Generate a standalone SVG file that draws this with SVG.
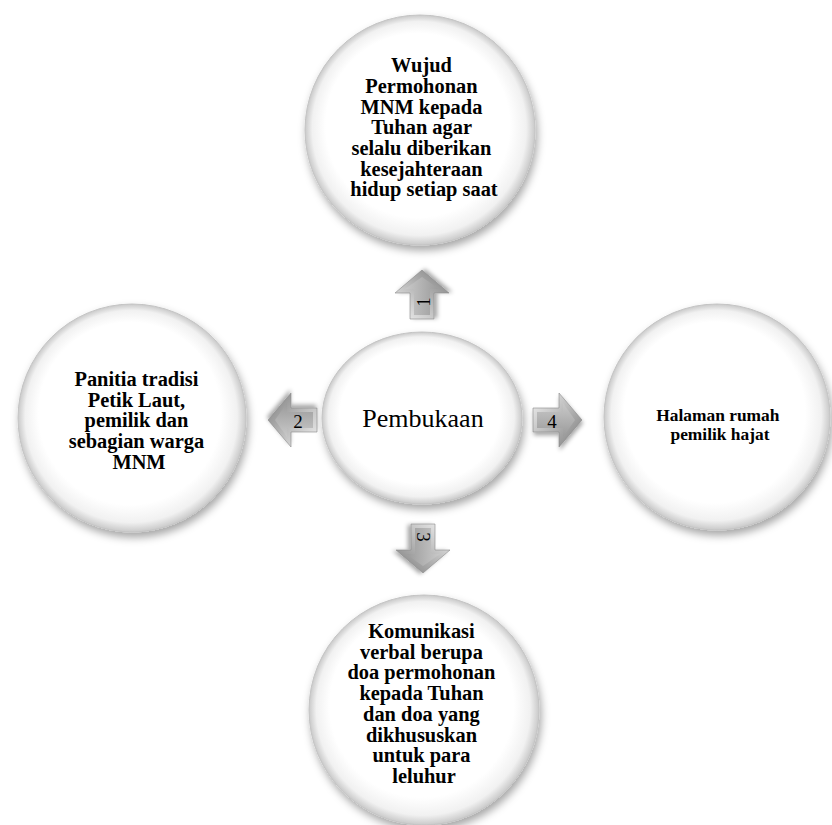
<svg xmlns="http://www.w3.org/2000/svg" width="832" height="825" viewBox="0 0 832 825">
  <style>
    .bubble { fill: url(#sphere); stroke: #c4c4c4; stroke-width: 1; filter: url(#softShadow); }
    .label { font-family: "Liberation Serif", "Times New Roman", serif; font-weight: bold; font-size: 20.4px; fill: #000; text-anchor: middle; }
    .small { font-size: 17.4px; }
    .hub { font-family: "Liberation Serif", "Times New Roman", serif; font-size: 26px; fill: #000; text-anchor: middle; }
    .num { font-family: "Liberation Serif", "Times New Roman", serif; font-size: 19px; fill: #000; text-anchor: middle; dominant-baseline: central; }
    .arrow-outer { fill: url(#bevelOuter); stroke: #8a8a8a; stroke-width: 0.6; filter: url(#arrowShadow); }
    .arrow-inner { fill: url(#bevelInner); }
  </style>
  <defs>
    <radialGradient id="sphere" cx="0.5" cy="0.5" r="0.5" fx="0.45" fy="0.4">
      <stop offset="0" stop-color="#ffffff"/>
      <stop offset="0.8" stop-color="#ffffff"/>
      <stop offset="0.93" stop-color="#f1f1f1"/>
      <stop offset="1" stop-color="#c9c9c9"/>
    </radialGradient>
    <linearGradient id="bevelOuter" x1="0" y1="0" x2="1" y2="1">
      <stop offset="0" stop-color="#f4f4f4"/>
      <stop offset="0.5" stop-color="#b8b8b8"/>
      <stop offset="1" stop-color="#7a7a7a"/>
    </linearGradient>
    <linearGradient id="bevelInner" x1="0" y1="0" x2="0" y2="1">
      <stop offset="0" stop-color="#c9c9c9"/>
      <stop offset="1" stop-color="#9a9a9a"/>
    </linearGradient>
    <filter id="softShadow" x="-20%" y="-20%" width="140%" height="145%">
      <feDropShadow dx="2" dy="5" stdDeviation="4" flood-color="#000" flood-opacity="0.35"/>
    </filter>
    <filter id="arrowShadow" x="-30%" y="-30%" width="160%" height="170%">
      <feDropShadow dx="1" dy="3" stdDeviation="2" flood-color="#000" flood-opacity="0.35"/>
    </filter>
    <!-- block arrow pointing right: tail at x=0, tip at x=49 -->
    <g id="blockArrow">
      <polygon class="arrow-outer" points="0,-12 26,-12 26,-27 49,0 26,27 26,12 0,12"/>
      <polygon class="arrow-inner" points="4,-8 30,-8 30,-17 42,0 30,17 30,8 4,8"/>
    </g>
  </defs>

  <rect width="832" height="825" fill="#ffffff"/>

  <!-- connectors: numbered block arrows around the hub -->
  <g id="connectors">
    <g id="arrow-1">
      <use href="#blockArrow" transform="translate(422,319) rotate(-90)"/>
      <text class="num" transform="translate(423,302) rotate(-90)">1</text>
    </g>
    <g id="arrow-2">
      <use href="#blockArrow" transform="translate(317,420) rotate(180)"/>
      <text class="num" x="298" y="421">2</text>
    </g>
    <g id="arrow-3">
      <use href="#blockArrow" transform="translate(423,524) rotate(90)"/>
      <text class="num" transform="translate(423,537) rotate(90)">3</text>
    </g>
    <g id="arrow-4">
      <use href="#blockArrow" transform="translate(533,420)"/>
      <text class="num" x="552" y="421">4</text>
    </g>
  </g>

  <!-- hub -->
  <g id="node-pembukaan">
    <ellipse class="bubble" cx="422" cy="418" rx="100" ry="86"/>
    <text class="hub" x="423" y="427">Pembukaan</text>
  </g>

  <!-- top -->
  <g id="node-wujud">
    <circle class="bubble" cx="420" cy="130" r="115"/>
    <text class="label">
      <tspan x="424" y="72">Wujud</tspan>
      <tspan x="424" y="93">Permohonan</tspan>
      <tspan x="424" y="113.6">MNM kepada</tspan>
      <tspan x="424" y="134.3">Tuhan agar</tspan>
      <tspan x="424" y="155">selalu diberikan</tspan>
      <tspan x="424" y="175.7">kesejahteraan</tspan>
      <tspan x="424" y="196.4">hidup setiap saat</tspan>
    </text>
  </g>

  <!-- left -->
  <g id="node-panitia">
    <circle class="bubble" cx="132" cy="418" r="114"/>
    <text class="label">
      <tspan x="139" y="386">Panitia tradisi</tspan>
      <tspan x="139" y="406.7">Petik Laut,</tspan>
      <tspan x="139" y="427.4">pemilik dan</tspan>
      <tspan x="139" y="448.1">sebagian warga</tspan>
      <tspan x="139" y="468.8">MNM</tspan>
    </text>
  </g>

  <!-- right -->
  <g id="node-halaman">
    <circle class="bubble" cx="717" cy="417" r="113"/>
    <text class="label small">
      <tspan x="720" y="420.5">Halaman rumah</tspan>
      <tspan x="720" y="439.5">pemilik hajat</tspan>
    </text>
  </g>

  <!-- bottom -->
  <g id="node-komunikasi">
    <circle class="bubble" cx="424" cy="710" r="115"/>
    <text class="label">
      <tspan x="424" y="638">Komunikasi</tspan>
      <tspan x="424" y="658.7">verbal berupa</tspan>
      <tspan x="424" y="679.4">doa permohonan</tspan>
      <tspan x="424" y="700.1">kepada Tuhan</tspan>
      <tspan x="424" y="720.8">dan doa yang</tspan>
      <tspan x="424" y="741.5">dikhususkan</tspan>
      <tspan x="424" y="762.2">untuk para</tspan>
      <tspan x="424" y="782.9">leluhur</tspan>
    </text>
  </g>
</svg>
